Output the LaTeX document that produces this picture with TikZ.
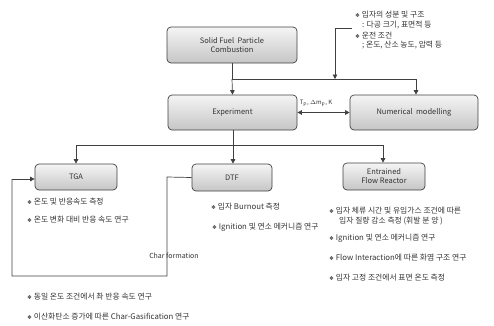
\documentclass[tikz,border=0pt]{standalone}
\usepackage{fontspec}
\setmainfont{Noto Sans CJK KR}
\newfontfamily\symfont{DejaVu Sans}
\usetikzlibrary{arrows.meta,positioning}
\newcommand{\dia}{{\symfont\scalebox{0.7}{❖}}\ }
\begin{document}
\begin{tikzpicture}[x=1pt,y=-1pt,
  box/.style={draw=black!75,line width=0.7pt,rounded corners=4pt,top color=gray!8,bottom color=gray!45,font=\fontsize{7.5}{9}\selectfont,align=center,inner sep=1pt,text=black!80},
  conn/.style={draw=black!75,line width=0.7pt},
  arr/.style={conn,-{Triangle[length=4.5pt,width=4.5pt]}},
  txt/.style={anchor=west,font=\fontsize{7.8}{9}\selectfont,inner sep=0pt,align=left,text=black!80}]
\useasboundingbox (0,0) rectangle (494,325);
\node[box,minimum width=130pt,minimum height=36pt] (sf) at (232,45) {Solid Fuel\ \ Particle\\Combustion};
\node[box,minimum width=129pt,minimum height=35pt] (ex) at (232.5,112.5) {Experiment};
\node[box,minimum width=128pt,minimum height=35pt] (nm) at (414,112.5) {Numerical\ \ modelling};
\node[box,minimum width=82pt,minimum height=26pt] (tga) at (76,177) {TGA};
\node[box,minimum width=80pt,minimum height=27pt] (dtf) at (232,177.5) {DTF};
\node[box,minimum width=82pt,minimum height=27pt] (efr) at (384,176.5) {Entrained\\Flow Reactor};
% top connectors
\coordinate (j1) at (232,79);
\coordinate (j2) at (416,79);
\coordinate (an) at (352,28);
\coordinate (anc) at (335,28);
\coordinate (ant) at (335,79);
\draw[conn] (sf.south) -- (j1);
\draw[arr] (j1) -- (ex.north);
\draw[arr] (j1) -- (j2) -- (nm.north -| j2);
\draw[arr] (an) -- (anc) -- (ant);
\draw[{Triangle[length=4.5pt,width=4.5pt]}-{Triangle[length=4.5pt,width=4.5pt]},conn] (ex.east) -- (nm.west);
\node[font=\fontsize{6}{7}\selectfont,inner sep=0pt,text=black!80] (tp) at (316,103) {T\textsubscript{P}, $\Delta$m\textsubscript{P}, K};
% branch
\coordinate (b0) at (233,145);
\coordinate (bl) at (76,145);
\coordinate (br) at (383,145);
\draw[conn] (ex.south -| b0) -- (b0);
\draw[conn] (bl) -- (br);
\draw[arr] (bl) -- (tga.north -| bl);
\draw[arr] (b0) -- (dtf.north -| b0);
\draw[arr] (br) -- (efr.north -| br);
% loop
\coordinate (l1) at (167,177);
\coordinate (l2) at (167,276);
\coordinate (l3) at (12,276);
\coordinate (l4) at (12,179);
\draw[conn] (dtf.west) -- (l1) -- (l2) -- (l3) -- (l4);
\draw[arr] (l4) -- (tga.west |- l4);
\node[font=\fontsize{7}{8}\selectfont,inner sep=0pt,text=black!80] (cf) at (174,256) {Char formation};
% annotation
\node[txt] (a1) at (355,15) {\dia 입자의 성분 및 구조};
\node[txt] (a2) at (362,25) {: 다공 크기, 표면적 등};
\node[txt] (a3) at (355,35) {\dia 운전 조건};
\node[txt] (a4) at (362,45) {; 온도, 산소 농도, 압력 등};
% TGA bullets
\node[txt] (t1) at (27,202) {\dia 온도 및 반응속도 측정};
\node[txt] (t2) at (27,220) {\dia 온도 변화 대비 반응 속도 연구};
% DTF bullets
\node[txt] (d1) at (211,207) {\dia 입자 Burnout 측정};
\node[txt] (d2) at (212,227) {\dia Ignition 및 연소 메커니즘 연구};
% EFR bullets
\node[txt] (e1) at (329,211) {\dia 입자 체류 시간 및 유입가스 조건에 따른};
\node[txt] (e2) at (339,221) {입자 질량 감소 측정 (휘발 분 양 )};
\node[txt] (e3) at (329,238) {\dia Ignition 및 연소 메커니즘 연구};
\node[txt] (e4) at (329,258) {\dia Flow Interaction에 따른 화염 구조 연구};
\node[txt] (e5) at (329,278) {\dia 입자 고정 조건에서 표면 온도 측정};
% bottom bullets
\node[txt] (c1) at (27,297) {\dia 동일 온도 조건에서 촤 반응 속도 연구};
\node[txt] (c2) at (27,317) {\dia 이산화탄소 증가에 따른 Char-Gasification 연구};
\end{tikzpicture}
\end{document}
